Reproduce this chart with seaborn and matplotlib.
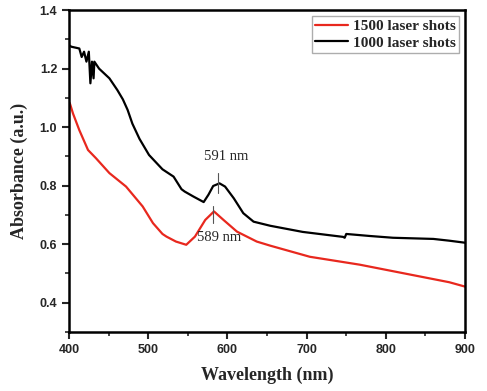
import matplotlib.pyplot as plt
import pandas as pd
import seaborn as sns

# Data
black_wl = [400, 403, 413, 416, 419, 422, 425, 427, 429, 431, 432, 438, 451, 461, 468,
            474, 480, 489, 501, 518, 532, 542, 546, 557, 570, 576, 582, 590, 597, 608,
            620, 633, 654, 695, 746, 748, 750, 780, 809, 860, 880, 900]
black_ab = [1.28, 1.275, 1.269, 1.24, 1.258, 1.224, 1.258, 1.15, 1.224, 1.167, 1.224, 1.20,
            1.167, 1.127, 1.095, 1.059, 1.012, 0.96, 0.905, 0.856, 0.831, 0.788, 0.78,
            0.763, 0.744, 0.769, 0.799, 0.808, 0.797, 0.757, 0.706, 0.677, 0.663, 0.642,
            0.625, 0.622, 0.635, 0.628, 0.622, 0.618, 0.612, 0.605]
red_wl = [400, 401, 405, 413, 424, 434, 451, 472, 493, 506, 518, 523, 535, 548, 559,
          572, 583, 595, 612, 637, 654, 704, 767, 831, 880, 900]
red_ab = [1.085, 1.082, 1.047, 0.99, 0.922, 0.894, 0.843, 0.797, 0.729, 0.672, 0.635,
          0.626, 0.609, 0.598, 0.626, 0.683, 0.712, 0.683, 0.643, 0.609, 0.595, 0.557,
          0.53, 0.496, 0.47, 0.455]
labels = ["1500 laser shots", "1000 laser shots"]


def main():
    df_red = pd.DataFrame({"wl": red_wl, "ab": red_ab})
    df_black = pd.DataFrame({"wl": black_wl, "ab": black_ab})

    sns.set_theme(style="ticks")
    serif = ["Liberation Serif", "DejaVu Serif"]
    sans = ["Liberation Sans", "DejaVu Sans"]

    fig, ax = plt.subplots(figsize=(4.87, 3.91), dpi=100)
    fig.subplots_adjust(left=0.1417, right=0.955, bottom=0.151, top=0.974)

    sns.lineplot(data=df_red, x="wl", y="ab", ax=ax, color="#e8281e", lw=1.6,
                 label=labels[0], sort=False)
    sns.lineplot(data=df_black, x="wl", y="ab", ax=ax, color="black", lw=1.6,
                 label=labels[1], sort=False)

    # peak markers
    ax.plot([588.5, 588.5], [0.774, 0.845], color="#555555", lw=0.8)
    ax.plot([582, 582], [0.672, 0.729], color="#555555", lw=0.8)
    ax.text(598, 0.90, "591 nm", ha="center", va="center", fontsize=10.5, family=serif)
    ax.text(590, 0.624, "589 nm", ha="center", va="center", fontsize=10.5, family=serif)

    ax.set_xlim(400, 900)
    ax.set_ylim(0.3, 1.4)
    ax.set_xticks([400, 500, 600, 700, 800, 900])
    ax.set_xticks(range(450, 900, 100), minor=True)
    ax.set_yticks([0.4, 0.6, 0.8, 1.0, 1.2, 1.4])
    ax.set_yticks([0.3, 0.5, 0.7, 0.9, 1.1, 1.3], minor=True)
    ax.set_yticklabels(["0.4", "0.6", "0.8", "1.0", "1.2", "1.4"])

    for sp in ax.spines.values():
        sp.set_visible(True)
        sp.set_linewidth(1.8)
        sp.set_color("black")
    ax.tick_params(which="major", direction="out", length=5, width=1.5, labelsize=9)
    ax.tick_params(which="minor", direction="out", length=3, width=1.2)
    for lab in ax.get_xticklabels() + ax.get_yticklabels():
        lab.set_family(sans)
        lab.set_fontweight("bold")

    ax.set_xlabel("Wavelength (nm)", fontsize=13, fontweight="bold", family=serif, labelpad=8)
    ax.set_ylabel("Absorbance (a.u.)", fontsize=13, fontweight="bold", family=serif, labelpad=8)

    leg = ax.legend(loc="upper right", prop={"family": serif, "weight": "bold", "size": 11},
                    frameon=True, fancybox=False, handlelength=2.2, handletextpad=0.3,
                    borderpad=0.2, labelspacing=0.2, borderaxespad=0.4)
    leg.get_frame().set_edgecolor("#999999")
    leg.get_frame().set_linewidth(1.0)

    fig.savefig("out.png", dpi=100)


if __name__ == '__main__':
    main()
